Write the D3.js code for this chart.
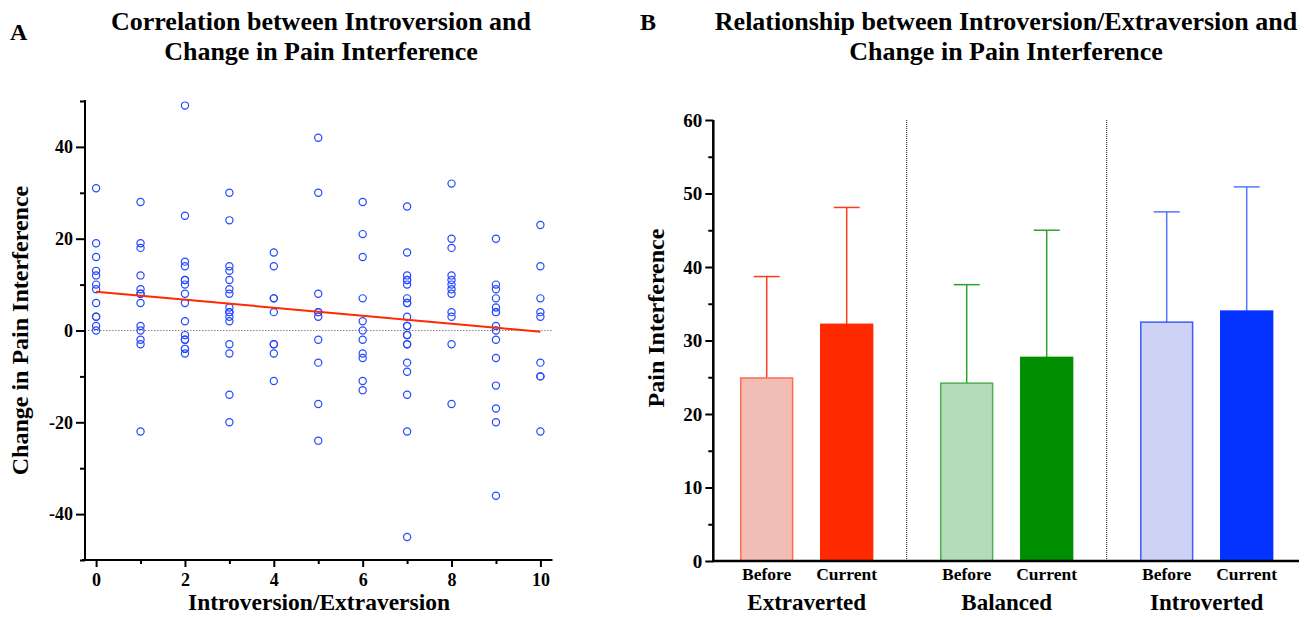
<!DOCTYPE html>
<html>
<head>
<meta charset="utf-8">
<script src="https://d3js.org/d3.v7.min.js"></script>
<style>
    body { margin: 0; background: white; }
    svg text { font-family: "Liberation Serif", "Times New Roman", serif; font-weight: bold; fill: black; }
</style>
</head>
<body>
<svg id="chart" width="1304" height="617"></svg>
<script>
// panel A: change in pain interference at each introversion score
var introScores = [0, 1, 2, 3, 4, 5, 6, 7, 8, 9, 10];
var changeByScore = [
    [31, 19, 16, 13, 12, 10, 9, 6, 3, 3, 1, 0],
    [28, 19, 18, 12, 9, 8, 8, 6, 1, 0, -2, -3, -22],
    [49, 25, 15, 14, 11, 11, 10, 8, 6, 2, -1, -2, -2, -4, -4, -5],
    [30, 24, 14, 13, 11, 9, 8, 5, 4, 4, 3, 2, -3, -5, -14, -20],
    [17, 14, 7, 7, 4, -3, -3, -5, -11],
    [42, 30, 8, 4, 4, 3, -2, -7, -16, -24],
    [28, 21, 16, 7, 2, 0, -2, -5, -6, -11, -13],
    [27, 17, 12, 11, 11, 10, 7, 6, 6, 3, 1, 1, -1, -1, -3, -3, -7, -9, -14, -22, -45],
    [32, 20, 18, 12, 11, 10, 9, 8, 4, 3, -3, -16],
    [20, 10, 9, 7, 5, 4, 4, 1, 0, -2, -6, -12, -17, -20, -36],
    [23, 14, 7, 4, 3, -7, -10, -10, -22]
];
var fitIntercept = 8.45;
var fitSlope = -0.87;
var scatterXTicks = [0, 2, 4, 6, 8, 10];
var scatterYTicks = [-40, -20, 0, 20, 40];

// panel B: mean pain interference (+ SD) before and now
var groups = ["Extraverted", "Balanced", "Introverted"];
var phases = ["Before", "Current"];
var beforeMeans = [24.9, 24.2, 32.5];
var beforeSD = [13.8, 13.4, 15.0];
var currentMeans = [32.2, 27.7, 34.0];
var currentSD = [15.9, 17.3, 16.9];
var barYTicks = [0, 10, 20, 30, 40, 50, 60];

var beforeFill = ["#f2bdb5", "#b4dcb9", "#ced3f5"];
var beforeStroke = ["#ff6a55", "#4cb050", "#3d5cff"];
var currentFill = ["#ff2a00", "#008f00", "#0433ff"];
var errorColor = ["#ff3b1f", "#2da02d", "#5575ff"];

var svg = d3.select("#chart");

function drawScatter() {
    var x = d3.scaleLinear().domain([-0.25, 10.25]).range([85, 551.5]);
    var y = d3.scaleLinear().domain([-50, 50]).range([560, 101]);

    var points = [];
    introScores.forEach(function (s, i) {
        changeByScore[i].forEach(function (v) { points.push([s, v]); });
    });

    svg.append("text").attr("x", 10).attr("y", 40).style("font-size", "24px").text("A");
    svg.append("text").attr("x", 321).attr("y", 30).attr("text-anchor", "middle")
        .style("font-size", "26px").text("Correlation between Introversion and");
    svg.append("text").attr("x", 321).attr("y", 60).attr("text-anchor", "middle")
        .style("font-size", "26px").text("Change in Pain Interference");

    // zero reference line
    svg.append("line")
        .attr("x1", x(-0.25)).attr("x2", x(10.25))
        .attr("y1", y(0)).attr("y2", y(0))
        .attr("stroke", "#888").attr("stroke-width", 1.2)
        .attr("stroke-dasharray", "1.5,1.5");

    var yAxis = svg.append("g")
        .attr("transform", "translate(" + x(-0.25) + ",0)")
        .call(d3.axisLeft(y).tickValues(d3.range(-50, 51, 10)).tickSize(9)
            .tickFormat(function (d) { return scatterYTicks.indexOf(d) >= 0 ? d : ""; }));
    yAxis.selectAll(".tick line").attr("x2", function (d) { return scatterYTicks.indexOf(d) >= 0 ? -9 : -5; });

    var xAxis = svg.append("g")
        .attr("transform", "translate(0," + y(-50) + ")")
        .call(d3.axisBottom(x).tickValues(introScores).tickSize(7)
            .tickFormat(function (d) { return scatterXTicks.indexOf(d) >= 0 ? d : ""; }));
    xAxis.selectAll(".tick line").attr("y2", function (d) { return scatterXTicks.indexOf(d) >= 0 ? 7 : 4; });

    [xAxis, yAxis].forEach(function (a) {
        a.select(".domain").attr("stroke-width", 2).attr("stroke-linecap", "square");
        a.selectAll(".tick line").attr("stroke-width", 2);
        a.selectAll(".tick text").style("font-size", "18px").style("font-family", "Liberation Serif")
            .style("font-weight", "bold").attr("fill", "black");
    });
    yAxis.selectAll(".domain").attr("d", "M0," + y(50) + "V" + y(-50));
    xAxis.selectAll(".domain").attr("d", "M" + (x(-0.25) - 2) + ",0H" + x(10.25));
    xAxis.selectAll(".tick text").attr("y", 9).attr("dy", "0.95em");

    svg.append("text").attr("x", 319).attr("y", 610).attr("text-anchor", "middle")
        .style("font-size", "23.5px").text("Introversion/Extraversion");
    svg.append("text")
        .attr("transform", "translate(28," + y(0) + ") rotate(-90)")
        .attr("text-anchor", "middle")
        .style("font-size", "24px").text("Change in Pain Interference");

    svg.append("g").selectAll("circle")
        .data(points)
        .enter().append("circle")
        .attr("cx", function (d) { return x(d[0]); })
        .attr("cy", function (d) { return y(d[1]); })
        .attr("r", 3.6)
        .attr("fill", "none")
        .attr("stroke", "#2448ff")
        .attr("stroke-width", 1.2);

    svg.append("path")
        .datum([0, 10])
        .attr("fill", "none")
        .attr("stroke", "#ff2a00")
        .attr("stroke-width", 2)
        .attr("d", d3.line()
            .x(function (d) { return x(d); })
            .y(function (d) { return y(fitIntercept + fitSlope * d); }));
}

function drawBars() {
    var outer = d3.scaleBand().domain(groups).range([706.7, 1306.7]);
    var inner = d3.scaleBand().domain(phases).range([0, outer.bandwidth()])
        .paddingInner(1 / 3).paddingOuter(0.4167);
    var y = d3.scaleLinear().domain([0, 60]).range([561, 120]);

    var bars = [];
    groups.forEach(function (g, i) {
        bars.push({ group: g, phase: "Before", mean: beforeMeans[i], sd: beforeSD[i],
            fill: beforeFill[i], stroke: beforeStroke[i], err: errorColor[i] });
        bars.push({ group: g, phase: "Current", mean: currentMeans[i], sd: currentSD[i],
            fill: currentFill[i], stroke: currentFill[i], err: errorColor[i] });
    });
    function bx(d) { return outer(d.group) + inner(d.phase); }

    svg.append("text").attr("x", 640).attr("y", 30).style("font-size", "24px").text("B");
    svg.append("text").attr("x", 1006).attr("y", 30).attr("text-anchor", "middle")
        .style("font-size", "26px").text("Relationship between Introversion/Extraversion and");
    svg.append("text").attr("x", 1006).attr("y", 60).attr("text-anchor", "middle")
        .style("font-size", "26px").text("Change in Pain Interference");

    // dotted group separators
    svg.append("g").selectAll("line")
        .data(groups.slice(1))
        .enter().append("line")
        .attr("x1", function (d) { return outer(d); })
        .attr("x2", function (d) { return outer(d); })
        .attr("y1", y(60)).attr("y2", y(0))
        .attr("stroke", "#222").attr("stroke-width", 1)
        .attr("stroke-dasharray", "1,1");

    // error bars
    var eb = svg.append("g").selectAll("g")
        .data(bars).enter().append("g");
    eb.append("line")
        .attr("x1", function (d) { return bx(d) + inner.bandwidth() / 2; })
        .attr("x2", function (d) { return bx(d) + inner.bandwidth() / 2; })
        .attr("y1", function (d) { return y(d.mean); })
        .attr("y2", function (d) { return y(d.mean + d.sd); })
        .attr("stroke", function (d) { return d.err; }).attr("stroke-width", 1.5);
    eb.append("line")
        .attr("x1", function (d) { return bx(d) + inner.bandwidth() / 2 - 13; })
        .attr("x2", function (d) { return bx(d) + inner.bandwidth() / 2 + 13; })
        .attr("y1", function (d) { return y(d.mean + d.sd); })
        .attr("y2", function (d) { return y(d.mean + d.sd); })
        .attr("stroke", function (d) { return d.err; }).attr("stroke-width", 1.5);

    svg.append("g").selectAll("rect")
        .data(bars).enter().append("rect")
        .attr("x", function (d) { return bx(d) + 0.75; })
        .attr("y", function (d) { return y(d.mean); })
        .attr("width", inner.bandwidth() - 1.5)
        .attr("height", function (d) { return y(0) - y(d.mean); })
        .attr("fill", function (d) { return d.fill; })
        .attr("stroke", function (d) { return d.stroke; })
        .attr("stroke-width", 1.5);

    var yAxis = svg.append("g")
        .attr("transform", "translate(713.3,0)")
        .call(d3.axisLeft(y).tickValues(d3.range(0, 61, 5)).tickSize(8)
            .tickFormat(function (d) { return barYTicks.indexOf(d) >= 0 ? d : ""; }));
    yAxis.selectAll(".tick line").attr("x2", function (d) { return barYTicks.indexOf(d) >= 0 ? -8 : -5; })
        .attr("stroke-width", 2);
    yAxis.select(".domain").attr("d", "M0," + y(60) + "V" + y(0)).attr("stroke-width", 2.5);
    yAxis.selectAll(".tick text").style("font-size", "19px").style("font-family", "Liberation Serif")
        .style("font-weight", "bold").attr("fill", "black");

    svg.append("line")
        .attr("x1", 712).attr("x2", 1299)
        .attr("y1", y(0)).attr("y2", y(0))
        .attr("stroke", "black").attr("stroke-width", 2.5);

    svg.append("g").selectAll("text")
        .data(bars).enter().append("text")
        .attr("x", function (d) { return bx(d) + inner.bandwidth() / 2; })
        .attr("y", 580)
        .attr("text-anchor", "middle")
        .style("font-size", "17.5px")
        .text(function (d) { return d.phase; });

    svg.append("g").selectAll("text")
        .data(groups).enter().append("text")
        .attr("x", function (d) { return outer(d) + outer.bandwidth() / 2; })
        .attr("y", 610)
        .attr("text-anchor", "middle")
        .style("font-size", "23px")
        .text(function (d) { return d; });

    svg.append("text")
        .attr("transform", "translate(664,318) rotate(-90)")
        .attr("text-anchor", "middle")
        .style("font-size", "24px").text("Pain Interference");
}

drawScatter();
drawBars();
</script>
</body>
</html>
